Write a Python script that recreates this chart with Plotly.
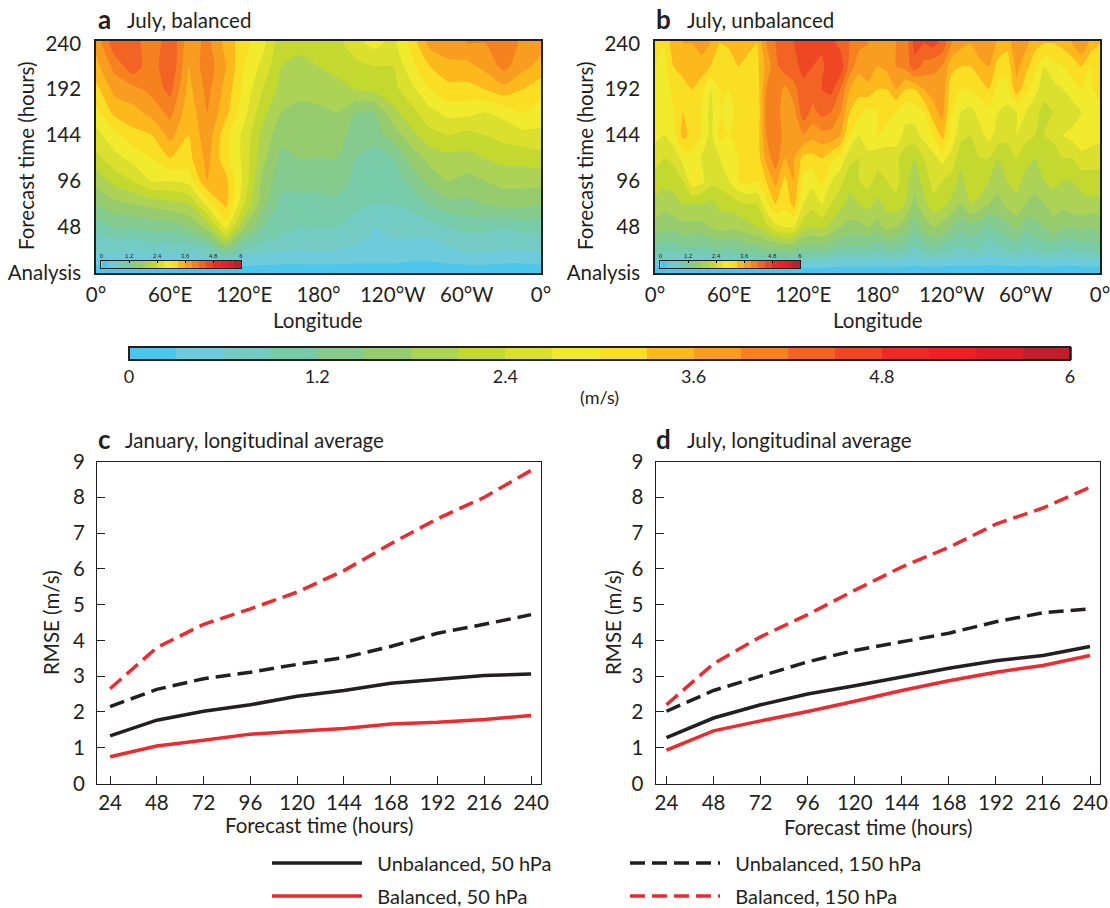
import plotly.graph_objects as go

W, H = 1110, 908
FONT = "Lato"
INK = "#231f20"

colors = ["#4dc6eb","#6dcbdc","#73cbc4","#78cba9","#85cb8e","#96cc6e","#acd355","#c4d92f","#dbe02e","#f1ea2d",
          "#fade24","#fdb81c","#f99d20","#f6821f","#f36323","#ef4723","#ee2a26","#ee1f26","#dc1f26","#bf1e2d"]

lon_a = [0,15,30,45,60,75,90,105,120,135,150,165,180,195,210,225,240,255,270,285,300,315,330,345,360]
time_a = [0,6,12,24,36,48,72,96,120,144,168,192,216,240,244]
row_a_240 = [3.7,4.4,4.4,3.9,4.5,3.7,4.0,3.5,3.1,2.8,2.2,2.2,2.2,2.3,2.6,2.8,2.6,3.1,3.7,3.8,3.9,3.9,4.2,3.8,3.7]
row_a_216 = [3.5,4.0,4.4,4.0,4.5,3.6,4.1,3.6,3.0,2.6,2.1,2.0,2.1,2.2,2.3,2.4,2.4,2.9,3.3,3.5,3.5,3.7,4.0,3.7,3.5]
row_a_192 = [3.2,3.7,3.8,4.0,4.3,3.5,4.0,3.5,2.9,2.4,2.0,1.9,2.0,2.0,2.1,2.2,2.3,2.6,3.0,3.2,3.2,3.3,3.5,3.3,3.1]
row_a_168 = [2.9,3.4,3.5,3.7,4.0,3.4,3.9,3.4,2.8,2.2,1.8,1.7,1.7,1.8,1.5,1.5,2.0,2.3,2.6,2.8,2.8,2.7,2.8,3.0,2.9]
row_a_144 = [2.6,2.9,3.2,3.3,3.7,3.3,3.8,3.1,2.6,2.0,1.6,1.6,1.7,1.6,1.4,1.4,1.6,2.0,2.3,2.4,2.3,2.4,2.5,2.6,2.6]
row_a_120 = [2.3,2.6,2.8,3.0,3.3,3.2,3.7,3.1,2.6,1.9,1.4,1.5,1.5,1.5,1.2,1.0,1.2,1.6,1.9,2.0,2.0,2.1,2.2,2.2,2.3]
row_a_96 = [1.9,2.2,2.4,2.7,2.7,2.8,3.6,3.4,2.6,1.7,1.3,1.3,1.3,1.4,1.1,1.0,1.0,1.3,1.6,1.8,1.7,1.8,1.9,1.9,1.9]
row_a_72 = [1.5,1.7,1.8,1.9,2.0,2.1,2.8,3.4,2.4,1.6,1.1,1.1,1.1,1.1,0.95,0.9,0.9,1.0,1.2,1.4,1.4,1.5,1.6,1.6,1.5]
row_a_48 = [1.0,1.2,1.2,1.3,1.3,1.5,1.9,2.8,1.8,1.2,1.0,0.9,0.9,0.9,0.8,0.6,0.7,0.7,0.8,0.9,1.0,1.0,0.9,1.0,1.0]
row_a_36 = [.8,.9,.9,1.0,1.0,1.1,1.4,2.2,1.3,1.0,.85,.8,.8,.75,.7,.55,.6,.6,.6,.7,.8,.8,.7,.8,.8]
row_a_24 = [.65,.7,.6,.7,.7,.7,.8,1.4,.9,.7,.65,.6,.65,.6,.5,.5,.45,.5,.45,.55,.65,.65,.6,.6,.65]
row_a_12 = [.4,.4,.4,.4,.4,.4,.45,.5,.45,.4,.4,.4,.4,.4,.35,.35,.35,.3,.3,.35,.4,.4,.35,.35,.4]
row_a_6 = [.24,.24,.24,.24,.24,.24,.26,.28,.26,.24,.2,.2,.2,.2,.2,.2,.2,.18,.18,.2,.22,.22,.2,.2,.24]
row_a_0 = [.1,.1,.1,.1,.1,.1,.1,.1,.1,.1,.1,.1,.1,.1,.1,.1,.1,.1,.1,.1,.1,.1,.1,.1,.1]
z_a = [row_a_0,row_a_6,row_a_12,row_a_24,row_a_36,row_a_48,row_a_72,row_a_96,row_a_120,row_a_144,row_a_168,row_a_192,row_a_216,row_a_240,row_a_240]

lon_b = [0,7.5,15,22.5,30,37.5,45,52.5,60,67.5,75,82.5,90,97.5,105,112.5,120,127.5,135,142.5,150,157.5,165,172.5,180,187.5,195,202.5,210,217.5,225,232.5,240,247.5,255,262.5,270,277.5,285,292.5,300,307.5,315,322.5,330,337.5,345,352.5,360]
time_b = [0,6,12,24,48,72,96,120,144,168,192,216,240,244]
row_b_240 = [3.1,3.0,3.5,3.6,3.6,3.7,3.6,3.3,3.4,3.6,3.4,3.3,3.9,4.2,4.4,4.5,4.7,4.7,4.6,4.6,4.4,4.2,4.0,3.9,3.7,3.8,3.9,4.0,4.6,4.5,4.6,4.4,3.9,3.7,3.6,3.8,3.9,3.5,3.4,3.9,3.7,3.4,3.3,3.3,3.4,3.6,3.9,3.5,3.3]
row_b_216 = [3.0,2.9,3.3,3.4,3.4,3.5,3.3,3.1,3.0,3.3,3.2,3.2,3.7,4.1,4.4,4.4,4.6,4.5,4.4,4.8,4.7,4.1,3.7,3.8,3.6,3.7,3.9,4.0,4.4,4.1,4.0,3.9,3.4,3.3,3.3,3.5,3.6,3.2,3.1,3.7,3.4,3.1,2.7,2.9,3.0,3.1,3.3,3.0,3.1]
row_b_192 = [3.0,2.8,3.1,3.2,3.3,3.1,2.7,3.0,3.0,3.1,3.1,3.1,3.9,4.2,3.8,4.1,4.4,4.4,4.5,4.6,4.2,3.6,3.4,3.5,3.3,3.3,3.6,3.3,3.3,3.6,3.7,3.8,3.1,3.0,3.0,3.1,3.3,2.9,2.9,3.5,3.1,2.8,2.5,2.6,2.7,2.9,3.0,2.9,3.3]
row_b_168 = [2.9,2.7,3.0,3.3,3.1,3.0,2.6,3.0,2.9,3.1,3.0,3.0,4.0,4.1,3.7,3.8,4.4,4.1,4.3,4.2,3.9,3.3,3.1,2.9,3.0,3.2,3.0,2.8,2.8,3.0,3.5,3.7,3.0,2.7,2.6,2.8,2.9,2.7,2.6,2.7,2.7,2.5,2.3,2.4,2.4,2.5,2.7,2.7,2.8]
row_b_144 = [2.8,2.7,2.9,3.4,3.2,3.0,2.6,3.1,3.0,3.1,3.2,3.1,3.9,4.1,3.8,3.7,3.9,3.7,3.8,3.8,3.6,3.0,2.7,2.9,3.0,2.8,2.9,2.6,2.6,2.8,3.0,3.4,2.9,2.5,2.4,2.6,2.8,2.6,2.5,2.7,2.5,2.4,2.4,2.5,2.7,2.8,2.9,2.9,2.8]
row_b_120 = [2.5,2.4,2.5,2.8,2.9,2.7,2.5,2.7,2.9,3.0,3.1,3.1,3.7,4.1,3.6,3.6,3.2,3.2,3.3,3.1,2.9,2.5,2.4,2.6,2.5,2.6,2.5,2.2,2.1,2.4,2.6,2.8,2.6,2.2,2.3,2.4,2.4,2.1,2.2,2.4,2.2,2.1,2.2,2.2,2.4,2.4,2.6,2.5,2.5]
row_b_96 = [2.3,2.2,2.2,2.4,2.9,2.8,2.5,2.5,2.7,3.0,3.1,3.0,3.3,3.7,3.2,3.6,2.9,2.8,3.1,2.7,2.5,2.2,2.4,2.5,2.3,2.4,2.5,2.2,1.9,2.2,2.5,2.4,2.3,2.0,2.3,2.3,2.1,1.9,2.1,2.2,2.0,1.9,2.1,2.2,2.1,2.1,2.2,2.3,2.3]
row_b_72 = [2.0,1.9,2.0,2.1,2.1,2.1,2.0,2.2,2.2,2.3,2.4,2.4,2.9,3.3,3.1,3.4,2.7,2.5,2.7,2.4,2.2,2.0,2.1,2.2,2.0,2.2,2.3,2.1,1.7,2.0,2.3,2.2,2.0,1.8,2.1,2.0,1.8,1.7,1.9,2.0,1.8,1.7,1.8,1.9,1.9,2.0,2.0,2.0,2.0]
row_b_48 = [1.7,1.6,1.6,1.7,1.7,1.7,1.8,1.9,1.9,1.9,2.0,2.1,2.3,2.6,2.7,2.7,2.2,2.1,2.2,2.0,1.8,1.7,1.7,1.8,1.7,1.9,1.8,1.6,1.3,1.6,1.8,1.7,1.5,1.3,1.4,1.3,1.1,1.3,1.4,1.6,1.3,1.4,1.5,1.7,1.5,1.5,1.6,1.5,1.6]
row_b_24 = [1.1,1.0,1.0,1.1,1.1,1.05,1.1,1.2,1.1,1.2,1.3,1.3,1.4,1.4,1.5,1.4,1.3,1.3,1.3,1.2,1.1,1.1,1.1,1.1,1.0,1.1,1.1,1.0,.8,1.0,1.1,1.0,.9,.8,.9,.9,.7,.8,.9,1.0,.8,.9,1.0,1.0,.9,.9,1.0,1.0,1.1]
row_b_12 = [.55,.5,.5,.55,.55,.5,.55,.6,.55,.6,.65,.65,.7,.7,.75,.7,.65,.65,.65,.6,.55,.55,.55,.55,.5,.55,.55,.5,.45,.5,.55,.5,.45,.45,.45,.45,.4,.45,.45,.5,.45,.45,.5,.5,.45,.45,.5,.5,.55]
row_b_6 = [.28,.28,.27,.28,.28,.27,.28,.3,.28,.3,.32,.32,.33,.33,.34,.33,.32,.32,.32,.3,.28,.28,.28,.28,.27,.28,.28,.27,.25,.27,.28,.27,.25,.25,.25,.25,.24,.25,.25,.27,.25,.25,.27,.27,.25,.25,.27,.27,.28]
row_b_0 = [.1,.1,.1,.1,.1,.1,.1,.1,.1,.1,.1,.1,.1,.1,.1,.1,.1,.1,.1,.1,.1,.1,.1,.1,.1,.1,.1,.1,.1,.1,.1,.1,.1,.1,.1,.1,.1,.1,.1,.1,.1,.1,.1,.1,.1,.1,.1,.1,.1]
z_b = [row_b_0,row_b_6,row_b_12,row_b_24,row_b_48,row_b_72,row_b_96,row_b_120,row_b_144,row_b_168,row_b_192,row_b_216,row_b_240,row_b_240]

hours = [24,48,72,96,120,144,168,192,216,240]
c_unb50 = [1.33,1.77,2.02,2.2,2.44,2.6,2.8,2.92,3.02,3.06]
c_bal50 = [.75,1.05,1.21,1.38,1.46,1.54,1.66,1.71,1.79,1.9]
c_unb150 = [2.15,2.63,2.93,3.11,3.33,3.52,3.83,4.2,4.45,4.72]
c_bal150 = [2.65,3.8,4.45,4.88,5.35,5.95,6.7,7.4,8.0,8.75]
d_unb50 = [1.28,1.83,2.2,2.5,2.73,2.97,3.22,3.43,3.58,3.83]
d_bal50 = [.93,1.47,1.75,2.01,2.3,2.6,2.87,3.11,3.3,3.58]
d_unb150 = [2.02,2.6,3.0,3.4,3.72,3.97,4.2,4.52,4.77,4.88]
d_bal150 = [2.2,3.35,4.1,4.72,5.4,6.05,6.6,7.25,7.7,8.28]

lon_ticks = [0,60,120,180,240,300,360]
lon_labels = ["0°","60°E","120°E","180°","120°W","60°W","0°"]
time_ticks = [0,48,96,144,192,240]
time_labels = ["Analysis","48","96","144","192","240"]
bar_ticks = [0,1.2,2.4,3.6,4.8,6]
bar_labels = ["0","1.2","2.4","3.6","4.8","6"]
level_mids = [0.15,0.45,0.75,1.05,1.35,1.65,1.95,2.25,2.55,2.85,3.15,3.45,3.75,4.05,4.35,4.65,4.95,5.25,5.55,5.85]

cscale = []
for i, c in enumerate(colors):
    cscale += [[i/20, c], [(i+1)/20, c]]

def dom_x(a, b): return [a/W, b/W]
def dom_y(top, bot): return [1-bot/H, 1-top/H]

fig = go.Figure()
tick_font = dict(family=FONT, size=20.5, color=INK)
GAP = "\u00a0\u00a0"

cbar = dict(orientation="h", thickness=13, thicknessmode="pixels", len=941, lenmode="pixels",
            x=599.5/W, xanchor="center", y=1-347/H, yanchor="top", xpad=0, ypad=0,
            tickvals=bar_ticks, ticktext=bar_labels, ticks="", tickfont=dict(family=FONT, size=18, color=INK),
            outlinecolor=INK, outlinewidth=2)

fig.add_trace(go.Contour(x=lon_a, y=time_a, z=z_a, xaxis="x", yaxis="y", colorscale=cscale, zmin=0, zmax=6,
                         autocontour=False, contours=dict(start=0, end=6, size=0.3, coloring="fill", showlines=False),
                         line=dict(width=0, smoothing=0.6), colorbar=cbar, showscale=True, hoverinfo="skip"))
fig.add_trace(go.Contour(x=lon_b, y=time_b, z=z_b, xaxis="x2", yaxis="y2", colorscale=cscale, zmin=0, zmax=6,
                         autocontour=False, contours=dict(start=0, end=6, size=0.3, coloring="fill", showlines=False),
                         line=dict(width=0, smoothing=0.5), showscale=False, hoverinfo="skip"))

BLACK = "#231f20"; RED = "#ee2a2e"
series_c = [("Unbalanced, 50 hPa", c_unb50, BLACK, "solid", "legend"), ("Unbalanced, 150 hPa", c_unb150, BLACK, "dash", "legend"),
            ("Balanced, 50 hPa", c_bal50, RED, "solid", "legend2"), ("Balanced, 150 hPa", c_bal150, RED, "dash", "legend2")]
series_d = [("Unbalanced, 50 hPa", d_unb50, BLACK, "solid"), ("Unbalanced, 150 hPa", d_unb150, BLACK, "dash"),
            ("Balanced, 50 hPa", d_bal50, RED, "solid"), ("Balanced, 150 hPa", d_bal150, RED, "dash")]
DASH = "15px,7px"
for name, vals, col, dash, leg in series_c:
    fig.add_trace(go.Scatter(x=hours, y=vals, name=GAP + name, mode="lines", xaxis="x3", yaxis="y3", legend=leg,
                             line=dict(color=col, width=3.5, dash=DASH if dash=="dash" else "solid"), showlegend=True))
for name, vals, col, dash in series_d:
    fig.add_trace(go.Scatter(x=hours, y=vals, name=name, mode="lines", xaxis="x4", yaxis="y4",
                             line=dict(color=col, width=3.5, dash=DASH if dash=="dash" else "solid"), showlegend=False))

for xa, ya in (("x5", "y5"), ("x6", "y6")):
    fig.add_trace(go.Heatmap(x=level_mids, y=[0], z=[level_mids], xaxis=xa, yaxis=ya, colorscale=cscale, zmin=0, zmax=6,
                             showscale=False, hoverinfo="skip"))

frame = dict(showline=True, linecolor=INK, linewidth=1.5, mirror=True, showgrid=False, zeroline=False, automargin=False)
def heat_x(a, b, anchor):
    return dict(frame, domain=dom_x(a, b), range=[0, 360], tickvals=lon_ticks, ticktext=lon_labels, anchor=anchor,
                ticks="", tickfont=tick_font, ticklabelstandoff=3, ticklabeloverflow="allow")
def heat_y(anchor):
    return dict(frame, domain=dom_y(40.5, 273), range=[0, 243], tickvals=time_ticks, ticktext=time_labels, anchor=anchor,
                ticks="", tickfont=tick_font, ticklabelstandoff=9)
def line_x(a, b, rng, anchor):
    return dict(frame, linewidth=1, domain=dom_x(a, b), range=rng, tickvals=hours, anchor=anchor, ticks="inside", ticklen=8,
                tickcolor=INK, tickfont=tick_font, ticklabelstandoff=1, ticklabeloverflow="allow")
def line_y(anchor):
    return dict(frame, linewidth=1, domain=dom_y(461.5, 783.5), range=[0, 9], tickvals=list(range(10)), anchor=anchor, ticks="inside", ticklen=8,
                tickcolor=INK, tickfont=tick_font, ticklabelstandoff=7)
def mini_x(a, b, anchor):
    return dict(frame, linewidth=1, domain=dom_x(a, b), range=[0, 6], tickvals=bar_ticks, ticktext=bar_labels, anchor=anchor,
                side="top", ticks="inside", ticklen=2, tickcolor="black", tickfont=dict(family="Liberation Sans", size=6, color=INK))
def mini_y(anchor):
    return dict(frame, linewidth=1, domain=dom_y(261, 268), range=[-0.5, 0.5], showticklabels=False, ticks="", anchor=anchor)
def legend_at(y):
    return dict(orientation="h", x=267/W, y=1-y/H, xanchor="left", yanchor="middle", itemwidth=90, entrywidth=253,
                entrywidthmode="pixels", font=dict(family=FONT, size=20, color=INK), bgcolor="rgba(0,0,0,0)")

def note(text, x, y, size=20.5, bold=False, xanchor="center", angle=0):
    return dict(text=f"<b>{text}</b>" if bold else text, x=x/W, y=1-y/H, xref="paper", yref="paper", showarrow=False,
                xanchor=xanchor, yanchor="middle", textangle=angle, font=dict(family=FONT, size=size, color=INK))

fig.update_layout(
    width=W, height=H, margin=dict(l=0, r=0, t=0, b=0, autoexpand=False), paper_bgcolor="white", plot_bgcolor="white",
    xaxis=heat_x(96, 541, "y"), yaxis=heat_y("x"),
    xaxis2=heat_x(655, 1100, "y2"), yaxis2=heat_y("x2"),
    xaxis3=line_x(97, 541, [17.3, 245.1], "y3"), yaxis3=line_y("x3"),
    xaxis4=line_x(655.5, 1100, [18.4, 245.1], "y4"), yaxis4=line_y("x4"),
    xaxis5=mini_x(101.3, 241, "y5"), yaxis5=mini_y("x5"),
    xaxis6=mini_x(660.3, 800, "y6"), yaxis6=mini_y("x6"),
    legend=legend_at(863), legend2=legend_at(896),
    annotations=[
        note("a", 96, 19, 26, True, "left"), note("July, balanced", 125, 20, xanchor="left"),
        note("b", 654, 19, 26, True, "left"), note("July, unbalanced", 685, 20, xanchor="left"),
        note("c", 96, 439, 26, True, "left"), note("January, longitudinal average", 123, 440, xanchor="left"),
        note("d", 654, 439, 26, True, "left"), note("July, longitudinal average", 685, 440, xanchor="left"),
        note("(m/s)", 599, 397, 18),
        note("Forecast time (hours)", 26, 156, angle=-90), note("Forecast time (hours)", 585, 156, angle=-90),
        note("Longitude", 318, 320), note("Longitude", 878, 320),
        note("Forecast time (hours)", 319, 825), note("Forecast time (hours)", 878, 827),
        note("RMSE (m/s)", 51, 623, angle=-90), note("RMSE (m/s)", 613, 623, angle=-90),
    ],
)
fig.write_html("out.html", config={"displayModeBar": False}, post_script="document.body.style.margin='0';")
